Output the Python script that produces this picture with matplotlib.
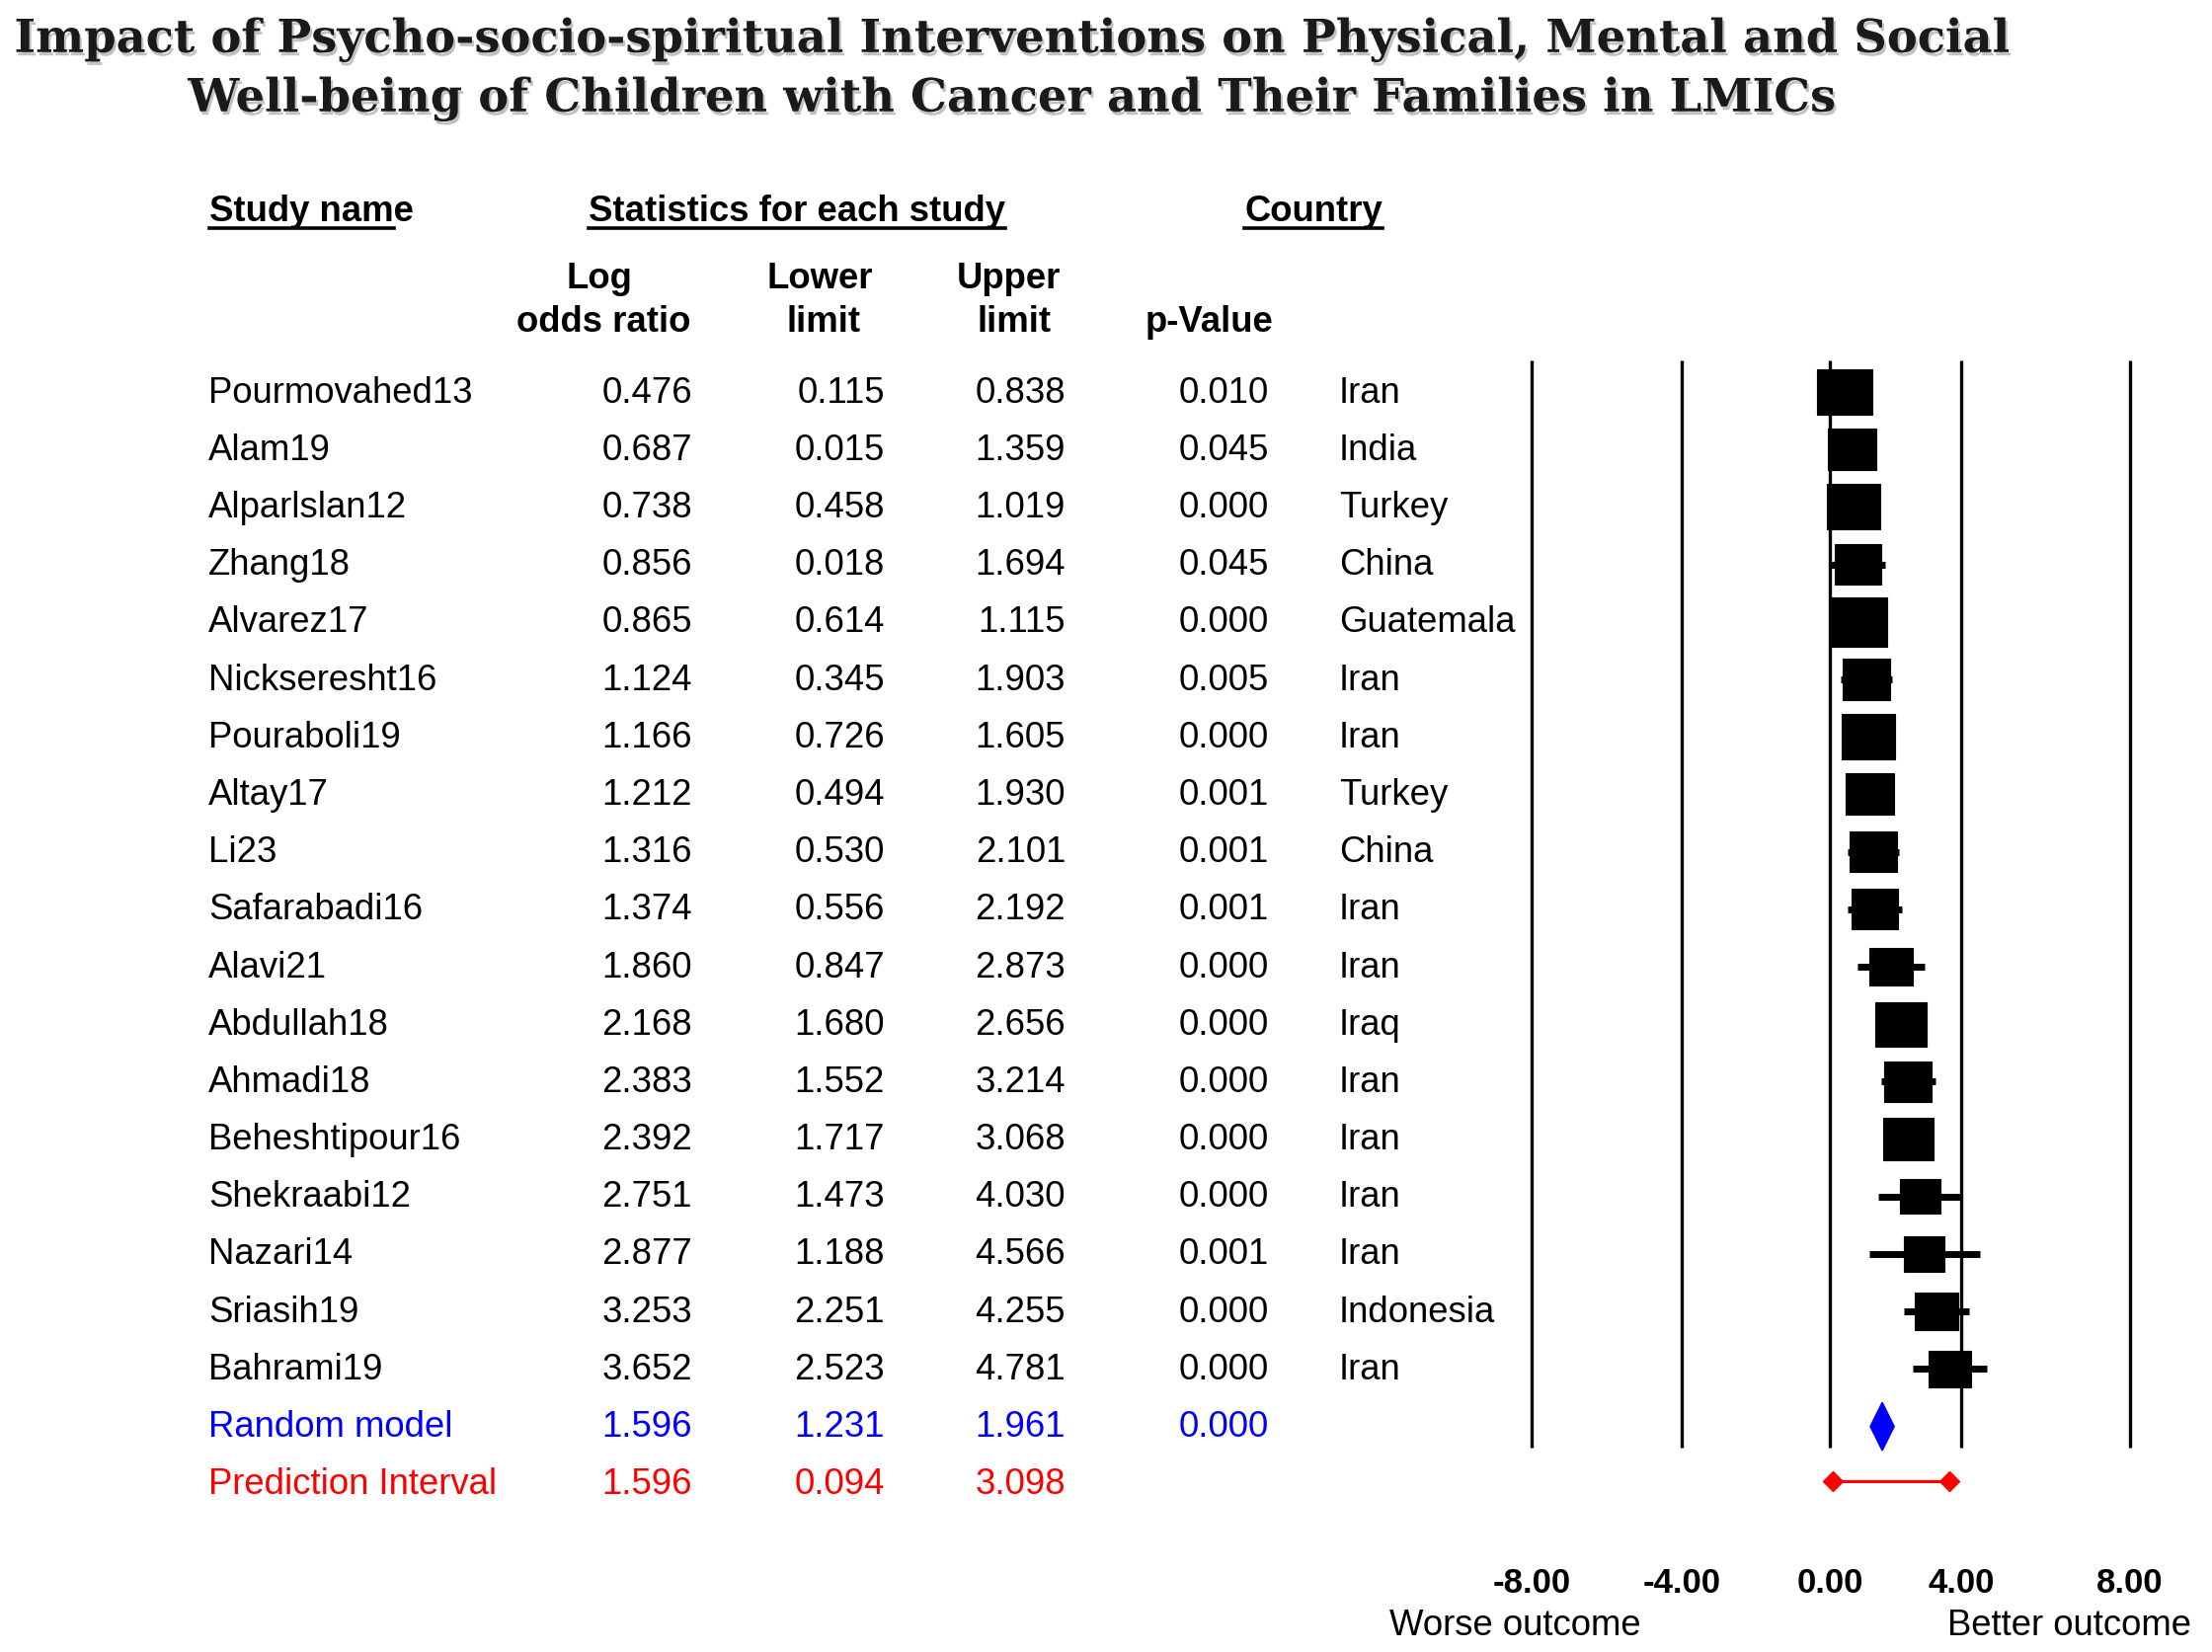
import numpy as np
import matplotlib
matplotlib.use("Agg")
import matplotlib.pyplot as plt
from matplotlib import transforms as mtransforms
from matplotlib import patheffects as pe
from matplotlib.patches import Rectangle, Polygon

# ---------------- data ----------------
studies = ["Pourmovahed13", "Alam19", "Alparlslan12", "Zhang18", "Alvarez17",
           "Nickseresht16", "Pouraboli19", "Altay17", "Li23", "Safarabadi16",
           "Alavi21", "Abdullah18", "Ahmadi18", "Beheshtipour16", "Shekraabi12",
           "Nazari14", "Sriasih19", "Bahrami19"]
log_or = [0.476, 0.687, 0.738, 0.856, 0.865, 1.124, 1.166, 1.212, 1.316, 1.374,
          1.860, 2.168, 2.383, 2.392, 2.751, 2.877, 3.253, 3.652]
lower = [0.115, 0.015, 0.458, 0.018, 0.614, 0.345, 0.726, 0.494, 0.530, 0.556,
         0.847, 1.680, 1.552, 1.717, 1.473, 1.188, 2.251, 2.523]
upper = [0.838, 1.359, 1.019, 1.694, 1.115, 1.903, 1.605, 1.930, 2.101, 2.192,
         2.873, 2.656, 3.214, 3.068, 4.030, 4.566, 4.255, 4.781]
p_values = ["0.010", "0.045", "0.000", "0.045", "0.000", "0.005", "0.000", "0.001",
            "0.001", "0.001", "0.000", "0.000", "0.000", "0.000", "0.000", "0.001",
            "0.000", "0.000"]
countries = ["Iran", "India", "Turkey", "China", "Guatemala", "Iran", "Iran", "Turkey",
             "China", "Iran", "Iran", "Iraq", "Iran", "Iran", "Iran", "Iran",
             "Indonesia", "Iran"]
# relative study weight shown as box size (width in log-odds units)
box_size = [1.62, 1.48, 1.62, 1.44, 1.75, 1.44, 1.62, 1.47, 1.44, 1.43,
            1.34, 1.58, 1.43, 1.52, 1.24, 1.23, 1.33, 1.28]

random_label = "Random model"
random_est, random_lo, random_hi, random_p = 1.596, 1.231, 1.961, "0.000"
pi_label = "Prediction Interval"
pi_est, pi_lo, pi_hi = 1.596, 0.094, 3.098
pi_drawn = [0.094, 3.65]          # interval as drawn in the graphic

x_ticks = [-8, -4, 0, 4, 8]
x_tick_labels = ["-8.00", "-4.00", "0.00", "4.00", "8.00"]

title_lines = ["Impact of Psycho-socio-spiritual Interventions on Physical, Mental and Social",
               "Well-being of Children with Cancer and Their Families in LMICs"]

# ---------------- layout ----------------
W, H = 2240, 1674
DPI = 100
fig = plt.figure(figsize=(W / DPI, H / DPI), dpi=DPI)
fig.patch.set_facecolor("white")

def fx(px):
    return px / W

def fy(py):
    return 1 - py / H

SANS = ["Liberation Sans", "Arial", "DejaVu Sans"]
FS = 26.3

# piecewise axis (the reference draws its grid lines at uneven spacing)
dn = np.array([-8.0, -4.0, 0.0, 4.0, 6.0, 8.0])
pn = np.array([1551.0, 1703.0, 1853.0, 1986.0, 2052.5, 2157.0])

def _pw(x, a, b):
    x = np.asarray(x, dtype=float)
    y = np.interp(x, a, b)
    sl0 = (b[1] - b[0]) / (a[1] - a[0])
    sl1 = (b[-1] - b[-2]) / (a[-1] - a[-2])
    y = np.where(x < a[0], b[0] + (x - a[0]) * sl0, y)
    y = np.where(x > a[-1], b[-1] + (x - a[-1]) * sl1, y)
    return y

fwd = lambda x: _pw(x, dn, pn)
inv = lambda x: _pw(x, pn, dn)

row0, drow = 398.0, 58.2
ax_top, ax_bot = 360.0, 1540.0
ax = fig.add_axes([fx(pn[0]), fy(ax_bot), (pn[-1] - pn[0]) / W, (ax_bot - ax_top) / H])
ax.set_xscale("function", functions=(fwd, inv))
ax.set_xlim(-8, 8)
ax.set_ylim((ax_bot - row0) / drow, (ax_top - row0) / drow)
ax.axis("off")

n = len(studies)
rows = np.arange(n)
row_random = n
row_pi = n + 1

# grid lines
ax.vlines(x_ticks, -0.55, row_random + 0.36, color="black", lw=2.4, clip_on=False, zorder=1)

# whiskers and boxes
ax.hlines(rows, lower, upper, color="black", lw=5.0, zorder=2, clip_on=False)
for i in range(n):
    w = box_size[i]
    h = 0.49 * w
    ax.add_patch(Rectangle((log_or[i] - w / 2, i - h / 2), w, h, facecolor="black",
                           edgecolor="black", lw=0.8, zorder=3, clip_on=False))

# summary diamond
dh = 0.42
ax.add_patch(Polygon([(random_lo, row_random), (random_est, row_random - dh),
                      (random_hi, row_random), (random_est, row_random + dh)],
                     closed=True, facecolor="#0000FF", edgecolor="#0000FF", zorder=3,
                     clip_on=False))

# prediction interval
ax.plot(pi_drawn, [row_pi - 0.05, row_pi - 0.05], color="#FF0000", lw=2.2, zorder=3,
        clip_on=False)
ax.plot(pi_drawn, [row_pi - 0.05, row_pi - 0.05], linestyle="none", marker="D", ms=10,
        color="#FF0000", zorder=4, clip_on=False)

# ---------------- text table ----------------
tr = mtransforms.blended_transform_factory(fig.transFigure, ax.transData)

x_name, x_or, x_lo, x_hi, x_p, x_ctry = 211, 701, 896, 1079, 1285, 1356

def row_text(i, vals, color):
    name, e, lo_, hi_, p, c = vals
    fig.text(fx(x_name), i, name, transform=tr, ha="left", va="center",
             fontsize=FS, family=SANS, color=color)
    for xx, s in ((x_or, e), (x_lo, lo_), (x_hi, hi_), (x_p, p)):
        if s:
            fig.text(fx(xx), i, s, transform=tr, ha="right", va="center",
                     fontsize=FS, family=SANS, color=color)
    if c:
        fig.text(fx(x_ctry), i, c, transform=tr, ha="left", va="center",
                 fontsize=FS, family=SANS, color=color)

for i in range(n):
    row_text(i, (studies[i], f"{log_or[i]:.3f}", f"{lower[i]:.3f}", f"{upper[i]:.3f}",
                 p_values[i], countries[i]), "black")
row_text(row_random, (random_label, f"{random_est:.3f}", f"{random_lo:.3f}",
                      f"{random_hi:.3f}", random_p, ""), "#0000FF")
row_text(row_pi, (pi_label, f"{pi_est:.3f}", f"{pi_lo:.3f}", f"{pi_hi:.3f}", "", ""),
         "#FF0000")

# headers
HFS = 26.3
fig.canvas.draw()
renderer = fig.canvas.get_renderer()

def underlined(x, y, s, ha, underline_part=None):
    t = fig.text(fx(x), fy(y), s, ha=ha, va="center", fontsize=HFS, family=SANS,
                 weight="bold", color="black")
    bb = t.get_window_extent(renderer)
    x0, x1 = bb.x0, bb.x1
    if underline_part is not None:
        tmp = fig.text(0, 0, underline_part, fontsize=HFS, family=SANS, weight="bold")
        x1 = x0 + tmp.get_window_extent(renderer).width
        tmp.remove()
    yl = fy(y + 17)
    fig.add_artist(plt.Line2D([x0 / W, x1 / W], [yl, yl], color="black", lw=2.6))
    return t

underlined(212, 215, "Study name", "left", underline_part="Study nam")
underlined(807, 215, "Statistics for each study", "center")
underlined(1330, 215, "Country", "center")

for (xc, y, s) in [(607, 283, "Log"), (611, 327, "odds ratio"),
                   (830, 283, "Lower"), (834, 327, "limit"),
                   (1021, 283, "Upper"), (1027, 327, "limit"),
                   (1225, 327, "p-Value")]:
    fig.text(fx(xc), fy(y), s, ha="center", va="center", fontsize=HFS, family=SANS,
             weight="bold", color="black")

# tick labels and outcome labels
trx = mtransforms.blended_transform_factory(ax.transData, fig.transFigure)
for v, lab in zip(x_ticks, x_tick_labels):
    fig.text(v, fy(1604), lab, transform=trx, ha="center", va="center", fontsize=25,
             family=SANS, weight="bold", color="black")
fig.text(fx(1534), fy(1647), "Worse outcome", ha="center", va="center", fontsize=FS,
         family=SANS, color="black")
fig.text(fx(2096), fy(1647), "Better outcome", ha="center", va="center", fontsize=FS,
         family=SANS, color="black")

# title, fitted to the reference width
TITLE_FAM = ["DejaVu Serif"]
t1 = fig.text(fx(1026), fy(41), title_lines[0], ha="center", va="center", fontsize=36,
              family=TITLE_FAM, weight="bold", color="#1a1a1a")
w1 = t1.get_window_extent(renderer).width
tfs = 36 * 2020.0 / w1
t1.set_fontsize(tfs)
t2 = fig.text(fx(1026), fy(101), title_lines[1], ha="center", va="center", fontsize=tfs,
              family=TITLE_FAM, weight="bold", color="#1a1a1a")
for t in (t1, t2):
    t.set_path_effects([pe.SimplePatchShadow(offset=(1.5, -2.5), shadow_rgbFace="#999999",
                                             alpha=0.6), pe.Normal()])

fig.savefig("out.png", dpi=DPI, facecolor="white")
